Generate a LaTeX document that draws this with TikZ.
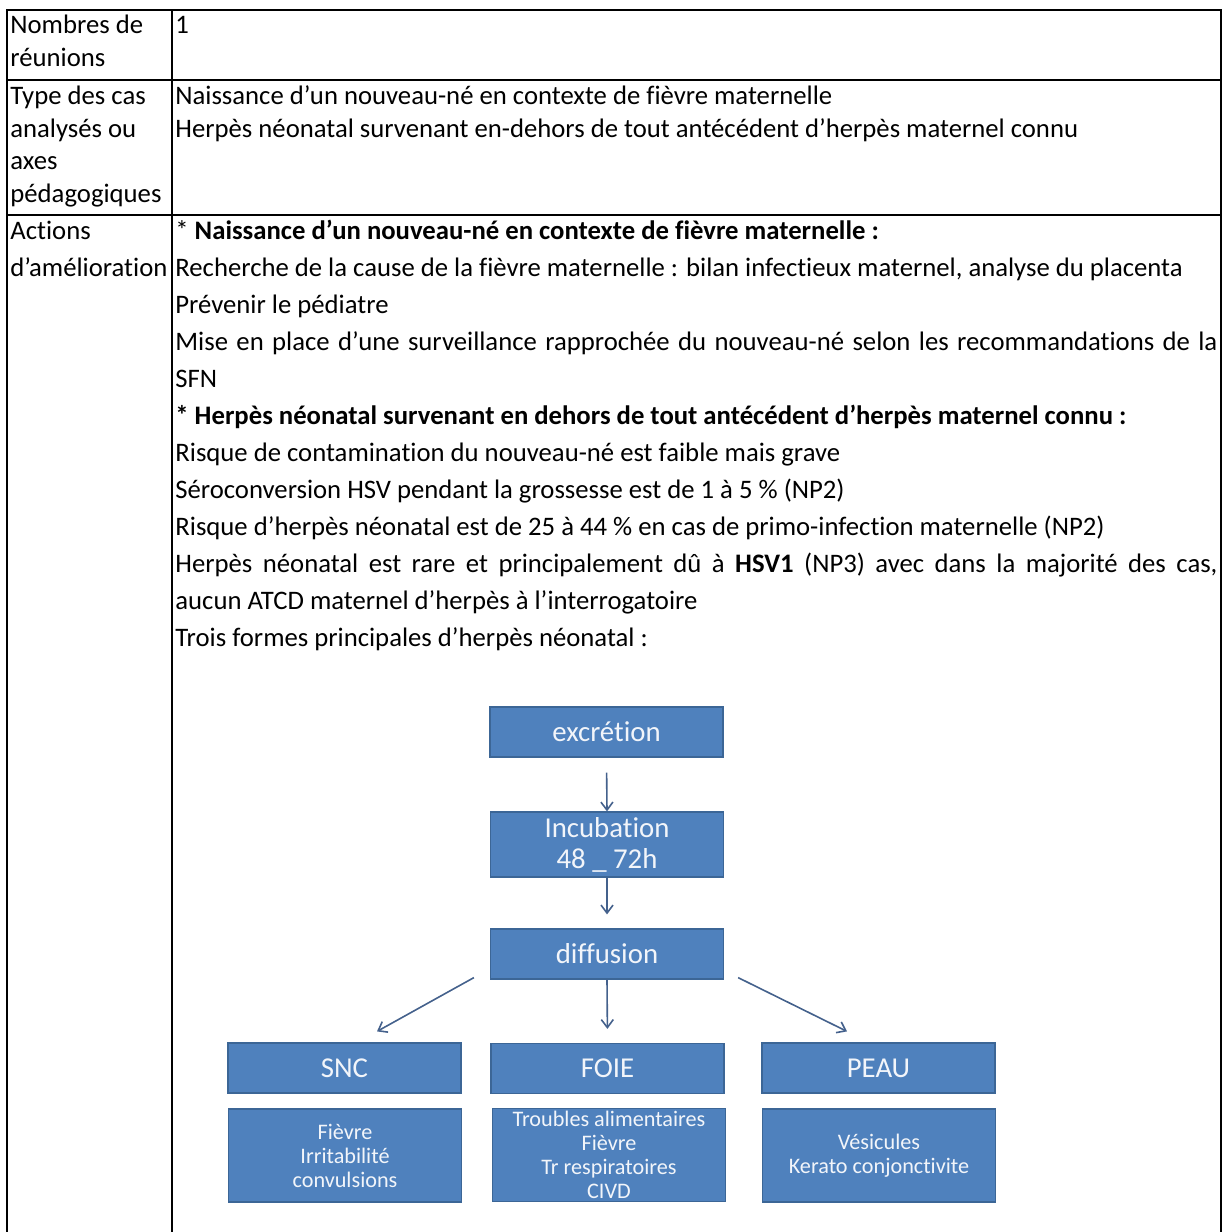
\documentclass[tikz,border=0pt]{standalone}
\usepackage{fontspec}
\setmainfont{Carlito}[Ligatures=NoCommon]
\usetikzlibrary{arrows.meta,calc}
\definecolor{boxblue}{HTML}{4F81BD}
\definecolor{boxedge}{HTML}{3C6696}
\definecolor{arrowc}{HTML}{44618C}
\definecolor{boxtext}{HTML}{F2F5FA}
\begin{document}
\begin{tikzpicture}[x=0.5pt,y=-0.5pt,
  tx/.style={anchor=mid west, inner sep=0pt, font=\fontsize{13.35}{15}\selectfont},
  bx/.style={fill=boxblue, draw=boxedge, line width=0.6pt, text=boxtext,
    font=\fontsize{14.4}{15.5}\selectfont, minimum width=116.5pt, minimum height=25pt,
    inner sep=0pt, align=center},
  sym/.style={bx, font=\fontsize{11.1}{12}\selectfont, minimum height=46.5pt},
  arr/.style={draw=arrowc, line width=0.8pt, -{Straight Barb[length=4pt,width=6pt]}},
  rule/.style={line width=1pt, draw=black}]
\useasboundingbox (0,0) rectangle (1223,1232);
% table rules
\draw[rule] (7,1232) -- (7,10) -- (1221,10) -- (1221,1232);
\draw[rule] (172,10) -- (172,1232);
\draw[rule] (7,80) -- (1221,80);
\draw[rule] (7,215) -- (1221,215);
% left column
\node[tx] (l1) at (10,29) {Nombres de};
\node[tx] (l2) at (10,62) {réunions};
\node[tx] (l3) at (10,100) {Type des cas};
\node[tx] (l4) at (10,132.5) {analysés ou};
\node[tx] (l5) at (10,165) {axes};
\node[tx] (l6) at (10,197.5) {pédagogiques};
\node[tx] (l7) at (10,235) {Actions};
\node[tx] (l8) at (10,272) {d’amélioration};
% right column
\node[tx] (r1) at (175,29) {1};
\node[tx] (r2) at (175,100) {Naissance d’un nouveau-né en contexte de fièvre maternelle};
\node[tx] (r3) at (175,132.5) {Herpès néonatal survenant en-dehors de tout antécédent d’herpès maternel connu};
\node[tx] (a1) at (175,235) {* \textbf{Naissance d’un nouveau-né en contexte de fièvre maternelle :}};
\node[tx] (a2) at (175,272) {Recherche de la cause de la fièvre maternelle : bilan infectieux maternel, analyse du placenta};
\node[tx] (a3) at (175,309) {Prévenir le pédiatre};
\node[tx] (a4) at (175,346) {\makebox[521pt][s]{Mise en place d’une surveillance rapprochée du nouveau-né selon les recommandations de la}};
\node[tx] (a5) at (175,383) {SFN};
\node[tx] (a6) at (175,420) {\textbf{* Herpès néonatal survenant en dehors de tout antécédent d’herpès maternel connu :}};
\node[tx] (a7) at (175,457) {Risque de contamination du nouveau-né est faible mais grave};
\node[tx] (a8) at (175,494) {Séroconversion HSV pendant la grossesse est de 1 à 5 \% (NP2)};
\node[tx] (a9) at (175,531) {Risque d’herpès néonatal est de 25 à 44 \% en cas de primo-infection maternelle (NP2)};
\node[tx] (a10) at (175,568) {\makebox[521pt][s]{Herpès néonatal est rare et principalement dû à \textbf{HSV1} (NP3) avec dans la majorité des cas,}};
\node[tx] (a11) at (175,605) {aucun ATCD maternel d’herpès à l’interrogatoire};
\node[tx] (a12) at (175,642) {Trois formes principales d’herpès néonatal :};
% diagram
\node[bx] (exc) at (606.5,732) {excrétion};
\node[bx, minimum height=32.5pt] (inc) at (607,844.5) {Incubation\\48 \_ 72h};
\node[bx] (dif) at (607,954) {diffusion};
\node[bx] (snc) at (344.5,1068) {SNC};
\node[bx] (foie) at (607.5,1068.5) {FOIE};
\node[bx] (peau) at (878.5,1068) {PEAU};
\node[sym] (s1) at (345,1155.5) {Fièvre\\Irritabilité\\convulsions};
\node[sym] (s2) at (609,1155) {Troubles alimentaires\\Fièvre\\Tr respiratoires\\CIVD};
\node[sym] (s3) at (879,1155.5) {Vésicules\\Kerato conjonctivite};
\draw[arr, shorten <=7.5pt] (exc.south) -- (inc.north);
\draw[arr, shorten >=7pt] (inc.south) -- (dif.north);
\draw[arr, shorten >=7pt] (dif.south) -- (foie.north);
\draw[arr] ($(dif.south west)+(-16,-2)$) -- ($(snc.north)+(32.5,-11)$);
\draw[arr] ($(dif.south east)+(14,-2)$) -- ($(peau.north)+(-31.5,-11)$);
\end{tikzpicture}
\end{document}
